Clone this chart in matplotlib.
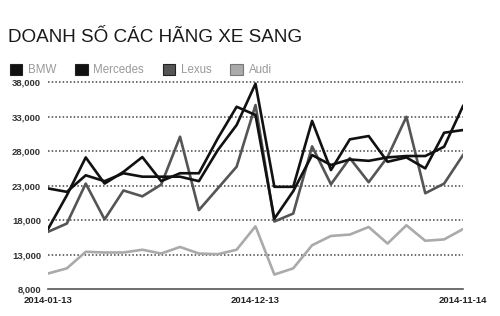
import matplotlib
matplotlib.use("Agg")
import matplotlib.pyplot as plt
from matplotlib.patches import Patch

# du lieu doc tu hinh (23 moc thoi gian)
labels = ["2014-01-13", "2014-12-13", "2014-11-14"]
label_pos = [0, 11, 22]

bmw = [22600, 22100, 24500, 23650, 24800, 24300, 24300, 24300, 23650, 28150, 31800, 37800,
       22830, 22830, 32400, 25260, 29720, 30200, 26460, 27100, 25500, 30680, 31070]
mercedes = [16700, 21600, 27100, 23300, 25000, 27150, 23650, 24800, 24800, 29860, 34450, 33250,
            18200, 22200, 27440, 26000, 26800, 26600, 27100, 27300, 27300, 28650, 34550]
lexus = [16300, 17500, 23300, 18100, 22300, 21450, 23150, 30100, 19450, 22600, 25750, 34700,
         17800, 18950, 28700, 23200, 27000, 23500, 27150, 33000, 21900, 23300, 27440]
audi = [10250, 11000, 13400, 13300, 13300, 13700, 13150, 14100, 13150, 13050, 13700, 17100,
        10100, 11000, 14350, 15700, 15900, 17000, 14600, 17250, 15000, 15200, 16700]

yticks = [8000, 13000, 18000, 23000, 28000, 33000, 38000]

names = ["BMW", "Mercedes", "Lexus", "Audi"]
colors = ["#111111", "#111111", "#555555", "#aaaaaa"]

plt.rcParams["font.family"] = ["Liberation Sans", "DejaVu Sans"]

fig = plt.figure(figsize=(5, 3.16), dpi=100)
ax = fig.add_axes([0.096, 0.0854, 0.83, 0.6542])

x = list(range(len(bmw)))
ax.plot(x, audi, color=colors[3], lw=1.9, zorder=2)
ax.plot(x, lexus, color=colors[2], lw=1.9, zorder=3)
ax.plot(x, bmw, color=colors[0], lw=1.9, zorder=4)
ax.plot(x, mercedes, color=colors[1], lw=1.9, zorder=4)

ax.set_xlim(0, 22)
ax.set_ylim(8000, 38000)
ax.set_yticks(yticks)
ax.set_yticklabels([f"{v:,}" for v in yticks], fontsize=6.8, fontweight="bold", color="#333333")
ax.tick_params(axis="y", length=0, pad=5)
for v in yticks[1:]:
    ax.axhline(v, color="#444444", lw=1.1, ls=(0, (1, 1.4)), zorder=1, clip_on=False)

ax.set_xticks(label_pos)
ax.set_xticklabels(labels, fontsize=6.8, fontweight="bold", color="#222222")
ax.tick_params(axis="x", length=0, pad=5)
ax.set_xticks([0, 22], minor=True)
ax.tick_params(axis="x", which="minor", length=4, direction="inout", color="#555555", width=1)

for s in ["top", "right", "left"]:
    ax.spines[s].set_visible(False)
ax.spines["bottom"].set_color("#555555")
ax.spines["bottom"].set_linewidth(1.2)

fig.text(0.016, 1 - 42 / 316, "DOANH SỐ CÁC HÃNG XE SANG", fontsize=13.6,
         color="#1a1a1a", va="baseline")

handles = [Patch(facecolor=c, edgecolor="#222222" if i < 3 else "#777777", lw=0.8)
           for i, c in enumerate(colors)]
leg = fig.legend(handles, names, loc="center left", bbox_to_anchor=(0.008, 1 - 70 / 316),
                 ncol=4, frameon=False, fontsize=8.3, handlelength=1.1, handleheight=1.1,
                 handletextpad=0.5, columnspacing=1.6, borderpad=0)
for t in leg.get_texts():
    t.set_color("#999999")

fig.savefig("out.png", dpi=100)
